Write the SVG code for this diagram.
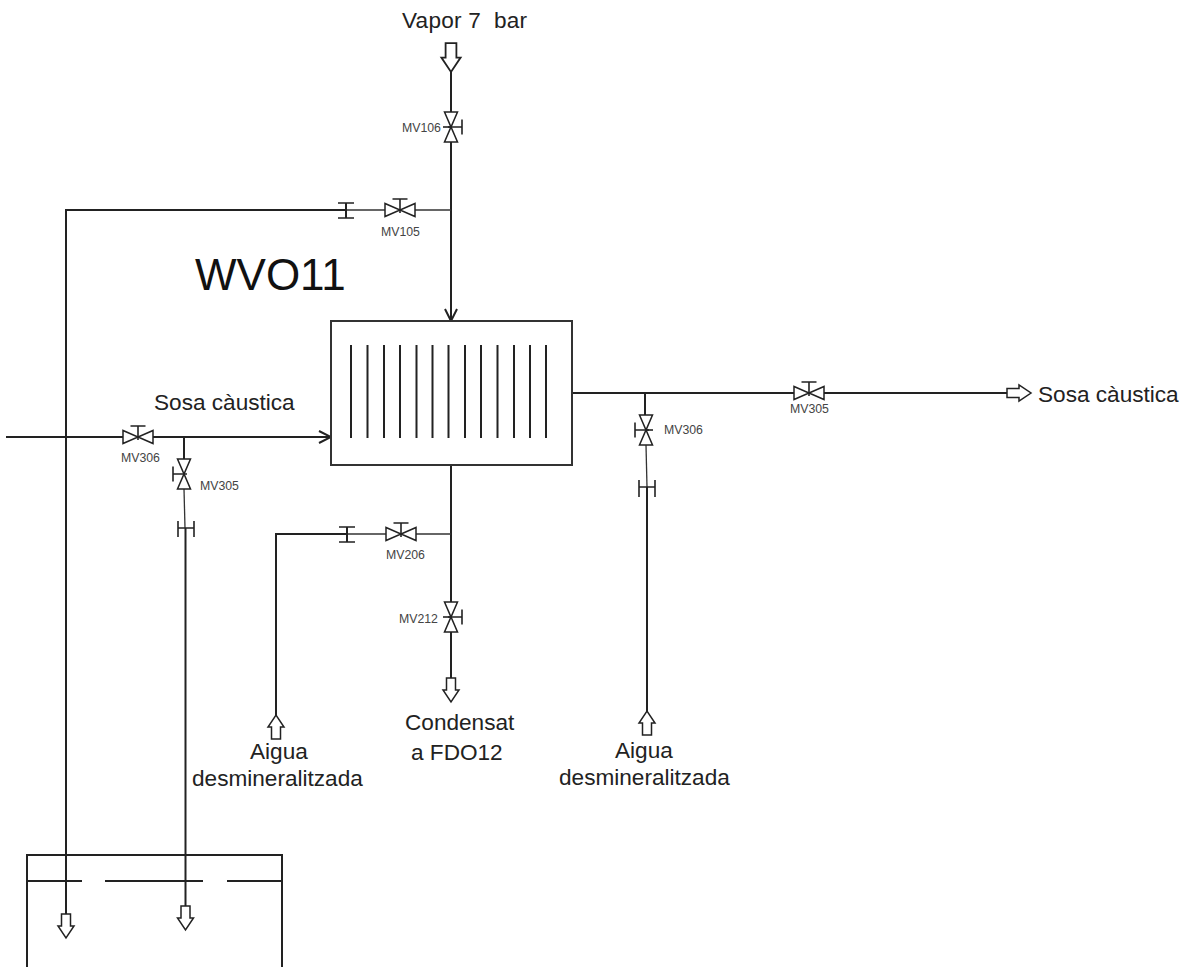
<svg xmlns="http://www.w3.org/2000/svg" width="1184" height="967" viewBox="0 0 1184 967">
<style>
text{font-family:"Liberation Sans",Arial,sans-serif;fill:#222}
.l{font-size:22.6px}
.s{font-size:12.3px;fill:#444}
.t{font-size:44px;fill:#111}
.p{fill:none;stroke:#222;stroke-width:2}
.n{fill:none;stroke:#333;stroke-width:1.3}
.f{fill:none;stroke:#222;stroke-width:1.6}
.sym{fill:#fff;stroke:#222;stroke-width:1.5;stroke-linejoin:miter}
.bar{stroke:#222;stroke-width:2;fill:none}
.box{fill:#fff;stroke:#333;stroke-width:2}
</style>
<defs>
<g id="vh"><path class="sym" d="M-15,-6.500V6.500L0,0ZM15,-6.500V6.500L0,0Z"/><path class="f" d="M0,3V-11M-7.500,-11H7.500"/></g>
<g id="ha"><path class="sym" d="M-4.500,-24H4.500V-12H8L0,0L-8,-12H-4.500Z"/></g>
<g id="fl"><path class="f" d="M-8,-7.500H8M-8,7.500H8"/><path class="p" d="M0,-7.500V7.500"/></g>
<marker id="open" viewBox="0 0 14 14" refX="13" refY="7" markerWidth="14" markerHeight="14" markerUnits="userSpaceOnUse" orient="auto"><path d="M1,1L13,7L1,13" fill="none" stroke="#222" stroke-width="2"/></marker>
</defs>

<g id="connectors">
<path class="p" d="M451,72V321" marker-end="url(#open)"/>
<path class="n" d="M451,210H346"/>
<path class="p" d="M346,210H66V915"/>
<path class="p" d="M6,437H331" marker-end="url(#open)"/>
<path class="p" d="M184,437V459"/>
<path class="n" d="M184,489L185,528"/>
<path class="p" d="M185.500,528V906"/>
<path class="p" d="M572,393H1008"/>
<path class="p" d="M645,393V415"/>
<path class="n" d="M646,445L647,487"/>
<path class="p" d="M647,487V712"/>
<path class="p" d="M451,465V678"/>
<path class="n" d="M451,534H347"/>
<path class="p" d="M347,534H276V716"/>
</g>

<g id="tank">
<path class="p" d="M27,967V855H282V967"/>
<path class="p" d="M27,881H82M105,881H203M227,881H282"/>
</g>

<g id="exchanger">
<rect class="box" x="331" y="321" width="241" height="144"/>
<path class="bar" d="M351,345V438M367.500,345V438M384,345V438M400,345V438M416.500,345V438M432.500,345V438M448.500,345V438M465,345V438M481,345V438M497.500,345V438M514,345V438M530,345V438M546,345V438"/>
</g>

<g id="MV106"><use href="#vh" transform="translate(451,127) rotate(90)"/><path class="f" d="M443,127H451"/><text class="s" x="402" y="132">MV106</text></g>
<g id="MV105"><use href="#vh" transform="translate(400,210)"/><text class="s" x="381" y="236">MV105</text></g>
<g id="MV306-left"><use href="#vh" transform="translate(138,437)"/><text class="s" x="121" y="462">MV306</text></g>
<g id="MV305-left"><use href="#vh" transform="translate(184,474) rotate(-90)"/><text class="s" x="200" y="490">MV305</text></g>
<g id="MV206"><use href="#vh" transform="translate(401,534)"/><text class="s" x="386" y="559">MV206</text></g>
<g id="MV212"><use href="#vh" transform="translate(451,617) rotate(90)"/><path class="f" d="M443,617H451"/><text class="s" x="399" y="623">MV212</text></g>
<g id="MV305-right"><use href="#vh" transform="translate(809,393)"/><text class="s" x="790" y="413">MV305</text></g>
<g id="MV306-right"><use href="#vh" transform="translate(646,430) rotate(-90)"/><path class="f" d="M646,430H653"/><text class="s" x="664" y="434">MV306</text></g>

<g id="flange-1"><use href="#fl" transform="translate(346,210.500)"/></g>
<g id="flange-2"><use href="#fl" transform="translate(347,534.500)"/></g>
<g id="flange-3"><path class="f" d="M178,521V537M194,521V537M178,528H194"/></g>
<g id="flange-4"><path class="f" d="M639,480V497M655,480V497M639,487H655"/></g>

<g id="arrow-vapor"><use href="#ha" transform="translate(451,72) scale(1.2)"/><text class="l" x="402" y="28" xml:space="preserve" textLength="125">Vapor 7  bar</text></g>
<g id="arrow-condensat"><use href="#ha" transform="translate(451,702)"/><text class="l" x="405" y="730">Condensat</text><text class="l" x="411" y="760">a FDO12</text></g>
<g id="arrow-aigua-1"><use href="#ha" transform="translate(276,715) rotate(180)"/><text class="l" x="250" y="759">Aigua</text><text class="l" x="192" y="786">desmineralitzada</text></g>
<g id="arrow-aigua-2"><use href="#ha" transform="translate(647,711) rotate(180)"/><text class="l" x="615" y="758">Aigua</text><text class="l" x="559" y="785">desmineralitzada</text></g>
<g id="arrow-sosa-out"><use href="#ha" transform="translate(1031,393) rotate(-90)"/><text class="l" x="1038" y="402">Sosa càustica</text></g>
<g id="label-sosa-in"><text class="l" x="154" y="410">Sosa càustica</text></g>
<g id="arrow-tank-1"><use href="#ha" transform="translate(66,938)"/></g>
<g id="arrow-tank-2"><use href="#ha" transform="translate(185.500,930)"/></g>
<g id="title"><text class="t" x="195" y="290">WVO11</text></g>
</svg>
